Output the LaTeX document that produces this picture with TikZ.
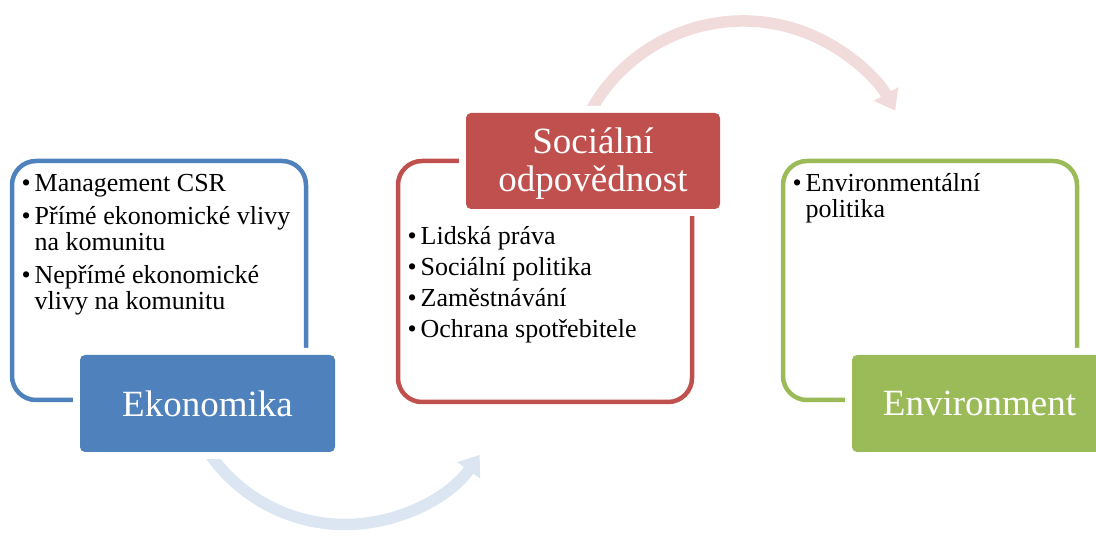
\documentclass[tikz,border=0pt]{standalone}
\usepackage{fontspec}
\setmainfont{Liberation Serif}
\usetikzlibrary{arrows.meta}
\definecolor{cblue}{HTML}{4F81BD}
\definecolor{cred}{HTML}{C0504D}
\definecolor{cgreen}{HTML}{9BBB59}
\definecolor{lblue}{HTML}{DCE6F2}
\definecolor{lred}{HTML}{F2DCDB}
\newcommand{\bul}{\makebox[13pt][l]{\textbullet}}
\begin{document}
\begin{tikzpicture}[x=1pt,y=1pt,
  frame/.style={draw=#1, line width=4.5pt, rounded corners=24pt, rectangle,
    minimum width=294pt, inner sep=0pt, outer sep=0pt},
  titlebox/.style={rectangle, rounded corners=5pt, fill=#1, inner sep=0pt,
    minimum width=255pt, minimum height=97pt,
    preaction={draw=white, line width=14pt},
    text=white, font=\fontsize{37}{38}\selectfont},
  titletext/.style={inner sep=0pt, text=white, align=center,
    font=\fontsize{37}{38}\selectfont},
  bodytext/.style={anchor=base west, inner sep=0pt,
    font=\fontsize{26}{26}\selectfont},
  arcarrow/.style={draw=#1, line width=11.5pt,
    -{Triangle[width=27pt,length=19pt]}}
]
\useasboundingbox (0,0) rectangle (1096,536);
\begin{scope}
\clip (0,0) rectangle (1096,536);

% curved arrows (behind everything)
\coordinate (bc) at (345,176.5);
\coordinate (tc) at (743,341);
\coordinate (bstart) at ([shift={(213:165)}]bc);
\coordinate (tstart) at ([shift={(155:174)}]tc);
\draw[arcarrow=lblue] (bstart) arc[start angle=213, end angle=324.7, radius=165];
\draw[arcarrow=lred] (tstart) arc[start angle=155, end angle=29, radius=174];

% outline frames
\node[frame=cblue, minimum height=239pt] (ekoframe) at (159,255.5) {};
\node[frame=cred, minimum height=241pt] (socframe) at (545,254.5) {};
\node[frame=cgreen, minimum height=239pt] (envframe) at (930,255.5) {};

% filled title boxes
\node[titlebox=cblue] (eko) at (207.5,132.5) {Ekonomika};
\node[titlebox=cred, minimum width=254pt, minimum height=96pt] (soc) at (593,375) {};
\node[titletext] (soctext) at ([yshift=-2.5pt]soc.center) {Sociální\\odpovědnost};
\node[titlebox=cgreen] (env) at (979.5,132.5) {Environment};

% bullet lists
\node[bodytext] (ekolist) at (21.5,344) {\begin{tabular}[t]{@{}l@{}l@{}}
\bul & Management CSR\\[7pt]
\bul & Přímé ekonomické vlivy\\
     & na komunitu\\[7pt]
\bul & Nepřímé ekonomické\\
     & vlivy na komunitu
\end{tabular}};
\node[bodytext] (soclist) at (407.5,291) {\begin{tabular}[t]{@{}l@{}l@{}}
\bul & Lidská práva\\[5pt]
\bul & Sociální politika\\[5pt]
\bul & Zaměstnávání\\[5pt]
\bul & Ochrana spotřebitele
\end{tabular}};
\node[bodytext] (envlist) at (792.5,344) {\begin{tabular}[t]{@{}l@{}l@{}}
\bul & Environmentální\\
     & politika
\end{tabular}};
\end{scope}
\end{tikzpicture}
\end{document}
